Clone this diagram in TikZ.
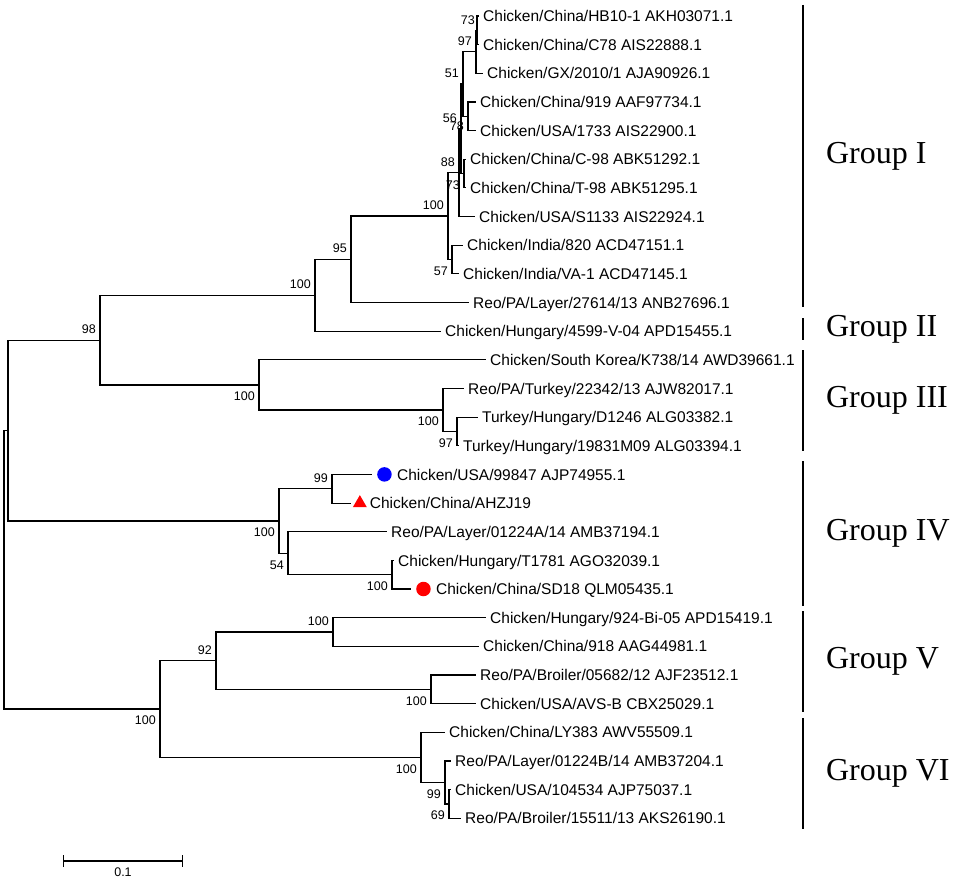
\documentclass[tikz,border=0pt]{standalone}
\usepackage{fontspec}
\setmainfont{Liberation Sans}
\newfontfamily\grpfont{Liberation Serif}
\usetikzlibrary{positioning, calc, shapes.geometric, arrows.meta}

\begin{document}
\begin{tikzpicture}[x=1pt, y=-1pt,
		branch/.style={line width=1.2pt, line cap=rect},
		leaf/.style={anchor=base west, inner sep=0pt, xshift=5pt, yshift=-5.6pt, font=\fontsize{15.5}{18}\selectfont},
		bsup/.style={anchor=south east, inner sep=0pt, xshift=-4pt, yshift=6pt, font=\fontsize{12.5}{15}\selectfont},
		bsdown/.style={anchor=north east, inner sep=0pt, xshift=-4pt, yshift=-7pt, font=\fontsize{12.5}{15}\selectfont},
		grpbar/.style={line width=2.2pt},
		grplabel/.style={anchor=west, inner sep=0pt, xshift=22pt, font=\grpfont\fontsize{32}{38}\selectfont},
		bluedot/.style={circle, fill=blue, inner sep=0pt, minimum size=14.5pt},
		reddot/.style={circle, fill=red, inner sep=0pt, minimum size=14.5pt},
		redtri/.style={regular polygon, regular polygon sides=3, fill=red, inner sep=0pt, minimum size=16pt}]

	\useasboundingbox (0,0) rectangle (957,882);

	% leaf ends
	\path (478,16.0) coordinate (l1);   \path (478,44.7) coordinate (l2);
	\path (482,73.3) coordinate (l3);   \path (475,102.0) coordinate (l4);
	\path (475,130.6) coordinate (l5);  \path (465,159.3) coordinate (l6);
	\path (465,187.9) coordinate (l7);  \path (474,216.6) coordinate (l8);
	\path (462,245.2) coordinate (l9);  \path (458,273.9) coordinate (l10);
	\path (468,302.5) coordinate (l11); \path (440,331.2) coordinate (l12);
	\path (485,359.8) coordinate (l13); \path (463,388.5) coordinate (l14);
	\path (477,417.1) coordinate (l15); \path (458,445.8) coordinate (l16);
	\path (371,474.4) coordinate (l17); \path (350,503.1) coordinate (l18);
	\path (386,531.7) coordinate (l19); \path (393,560.4) coordinate (l20);
	\path (410,589.0) coordinate (l21); \path (485,617.7) coordinate (l22);
	\path (478,646.3) coordinate (l23); \path (475,675.0) coordinate (l24);
	\path (475,703.6) coordinate (l25); \path (444,732.3) coordinate (l26);
	\path (450,760.9) coordinate (l27); \path (450,789.6) coordinate (l28);
	\path (460,818.2) coordinate (l29);

	% inner nodes with bootstrap values
	\path (4,569.8) coordinate (root);
	\path (8,430.6) coordinate (nA);
	\path (100,340.1) coordinate (n98) node[bsup] (b98) {98};
	\path (315,295.2) coordinate (nItwo) node[bsup] (bItwo) {100};
	\path (351,259.3) coordinate (nB) node[bsup] (bB) {95};
	\path (448,216.1) coordinate (nC) node[bsup] (bC) {100};
	\path (459,172.7) coordinate (nD) node[bsup] (bD) {88};
	\path (461,128.9) coordinate (nK) node[bsup] (bK) {56};
	\path (463,84.1) coordinate (nG) node[bsup] (bG) {51};
	\path (476,51.9) coordinate (nE) node[bsup] (bE) {97};
	\path (477,30.4) coordinate (nF) node[bsup, xshift=2pt] (bF) {73};
	\path (468,116.3) coordinate (nH) node[bsdown, yshift=2pt] (bH) {78};
	\path (464,173.6) coordinate (nCT) node[bsdown] (bCT) {73};
	\path (452,259.5) coordinate (nIN) node[bsdown] (bIN) {57};
	\path (259,384.9) coordinate (nIII) node[bsdown] (bIII) {100};
	\path (443,410.0) coordinate (nL) node[bsdown] (bL) {100};
	\path (457,431.4) coordinate (nTK) node[bsdown] (bTK) {97};
	\path (279,521.0) coordinate (nIV) node[bsdown] (bIV) {100};
	\path (332,488.8) coordinate (n99) node[bsup] (b99) {99};
	\path (288,553.2) coordinate (n54) node[bsdown] (b54) {54};
	\path (392,574.7) coordinate (nSD) node[bsdown] (bSD) {100};
	\path (160,709.0) coordinate (nVVI) node[bsdown] (bVVI) {100};
	\path (216,660.7) coordinate (n92) node[bsup] (b92) {92};
	\path (333,632.0) coordinate (nVa) node[bsup] (bVa) {100};
	\path (431,689.3) coordinate (nVb) node[bsdown] (bVb) {100};
	\path (421,757.3) coordinate (nVI) node[bsdown] (bVI) {100};
	\path (445,782.4) coordinate (nVIa) node[bsdown] (bVIa) {99};
	\path (449,803.9) coordinate (nVIb) node[bsdown] (bVIb) {69};

	% branches
	\draw[branch] (root) |- (nA);   \draw[branch] (root) |- (nVVI);
	\draw[branch] (nA) |- (n98);    \draw[branch] (nA) |- (nIV);
	\draw[branch] (n98) |- (nItwo); \draw[branch] (n98) |- (nIII);
	\draw[branch] (nItwo) |- (nB);  \draw[branch] (nItwo) |- (l12);
	\draw[branch] (nB) |- (nC);     \draw[branch] (nB) |- (l11);
	\draw[branch] (nC) |- (nD);     \draw[branch] (nC) |- (nIN);
	\draw[branch] (nD) |- (nK);     \draw[branch] (nD) |- (l8);
	\draw[branch] (nK) |- (nG);     \draw[branch] (nK) |- (nCT);
	\draw[branch] (nG) |- (nE);     \draw[branch] (nG) |- (nH);
	\draw[branch] (nE) |- (nF);     \draw[branch] (nE) |- (l3);
	\draw[branch] (nF) |- (l1);     \draw[branch] (nF) |- (l2);
	\draw[branch] (nH) |- (l4);     \draw[branch] (nH) |- (l5);
	\draw[branch] (nCT) |- (l6);    \draw[branch] (nCT) |- (l7);
	\draw[branch] (nIN) |- (l9);    \draw[branch] (nIN) |- (l10);
	\draw[branch] (nIII) |- (l13);  \draw[branch] (nIII) |- (nL);
	\draw[branch] (nL) |- (l14);    \draw[branch] (nL) |- (nTK);
	\draw[branch] (nTK) |- (l15);   \draw[branch] (nTK) |- (l16);
	\draw[branch] (nIV) |- (n99);   \draw[branch] (nIV) |- (n54);
	\draw[branch] (n99) |- (l17);   \draw[branch] (n99) |- (l18);
	\draw[branch] (n54) |- (l19);   \draw[branch] (n54) |- (nSD);
	\draw[branch] (nSD) |- (l20);   \draw[branch] (nSD) |- (l21);
	\draw[branch] (nVVI) |- (n92);  \draw[branch] (nVVI) |- (nVI);
	\draw[branch] (n92) |- (nVa);   \draw[branch] (n92) |- (nVb);
	\draw[branch] (nVa) |- (l22);   \draw[branch] (nVa) |- (l23);
	\draw[branch] (nVb) |- (l24);   \draw[branch] (nVb) |- (l25);
	\draw[branch] (nVI) |- (l26);   \draw[branch] (nVI) |- (nVIa);
	\draw[branch] (nVIa) |- (l27);  \draw[branch] (nVIa) |- (nVIb);
	\draw[branch] (nVIb) |- (l28);  \draw[branch] (nVIb) |- (l29);

	% markers
	\node[bluedot, right=6pt of l17] (m17) {};
	\node[redtri, right=5pt of l18] (m18) {};
	\node[reddot, right=6pt of l21] (m21) {};

	% taxa
	\node[leaf] (t1) at (l1) {Chicken/China/HB10-1 AKH03071.1};
	\node[leaf] (t2) at (l2) {Chicken/China/C78 AIS22888.1};
	\node[leaf] (t3) at (l3) {Chicken/GX/2010/1 AJA90926.1};
	\node[leaf] (t4) at (l4) {Chicken/China/919 AAF97734.1};
	\node[leaf] (t5) at (l5) {Chicken/USA/1733 AIS22900.1};
	\node[leaf] (t6) at (l6) {Chicken/China/C-98 ABK51292.1};
	\node[leaf] (t7) at (l7) {Chicken/China/T-98 ABK51295.1};
	\node[leaf] (t8) at (l8) {Chicken/USA/S1133 AIS22924.1};
	\node[leaf] (t9) at (l9) {Chicken/India/820 ACD47151.1};
	\node[leaf] (t10) at (l10) {Chicken/India/VA-1 ACD47145.1};
	\node[leaf] (t11) at (l11) {Reo/PA/Layer/27614/13 ANB27696.1};
	\node[leaf] (t12) at (l12) {Chicken/Hungary/4599-V-04 APD15455.1};
	\node[leaf] (t13) at (l13) {Chicken/South Korea/K738/14 AWD39661.1};
	\node[leaf] (t14) at (l14) {Reo/PA/Turkey/22342/13 AJW82017.1};
	\node[leaf] (t15) at (l15) {Turkey/Hungary/D1246 ALG03382.1};
	\node[leaf] (t16) at (l16) {Turkey/Hungary/19831M09 ALG03394.1};
	\node[leaf] (t17) at (m17.east |- l17) {Chicken/USA/99847 AJP74955.1};
	\node[leaf] (t18) at (m18.east |- l18) {Chicken/China/AHZJ19};
	\node[leaf] (t19) at (l19) {Reo/PA/Layer/01224A/14 AMB37194.1};
	\node[leaf] (t20) at (l20) {Chicken/Hungary/T1781 AGO32039.1};
	\node[leaf] (t21) at (m21.east |- l21) {Chicken/China/SD18 QLM05435.1};
	\node[leaf] (t22) at (l22) {Chicken/Hungary/924-Bi-05 APD15419.1};
	\node[leaf] (t23) at (l23) {Chicken/China/918 AAG44981.1};
	\node[leaf] (t24) at (l24) {Reo/PA/Broiler/05682/12 AJF23512.1};
	\node[leaf] (t25) at (l25) {Chicken/USA/AVS-B CBX25029.1};
	\node[leaf] (t26) at (l26) {Chicken/China/LY383 AWV55509.1};
	\node[leaf] (t27) at (l27) {Reo/PA/Layer/01224B/14 AMB37204.1};
	\node[leaf] (t28) at (l28) {Chicken/USA/104534 AJP75037.1};
	\node[leaf] (t29) at (l29) {Reo/PA/Broiler/15511/13 AKS26190.1};

	% groups
	\path (803,5) coordinate (g1a) (803,307) coordinate (g1b);
	\path (803,318) coordinate (g2a) (803,340) coordinate (g2b);
	\path (803,350) coordinate (g3a) (803,451) coordinate (g3b);
	\path (803,461) coordinate (g4a) (803,606) coordinate (g4b);
	\path (803,611) coordinate (g5a) (803,712) coordinate (g5b);
	\path (803,718) coordinate (g6a) (803,829) coordinate (g6b);
	\draw[grpbar] (g1a) -- (g1b) node[midway, grplabel] (gI) {Group I};
	\draw[grpbar] (g2a) -- (g2b) node[midway, grplabel] (gII) {Group II};
	\draw[grpbar] (g3a) -- (g3b) node[midway, grplabel] (gIII) {Group III};
	\draw[grpbar] (g4a) -- (g4b) node[midway, grplabel] (gIV) {Group IV};
	\draw[grpbar] (g5a) -- (g5b) node[midway, grplabel] (gV) {Group V};
	\draw[grpbar] (g6a) -- (g6b) node[midway, grplabel] (gVI) {Group VI};

	% scale bar
	\path (63,861) coordinate (sbL) (183,861) coordinate (sbR);
	\draw[branch, {Bar[width=12pt]}-{Bar[width=12pt]}] (sbL) -- (sbR)
		node[midway, below=6pt, inner sep=0pt, font=\fontsize{12.5}{15}\selectfont] (sbT) {0.1};
\end{tikzpicture}
\end{document}
